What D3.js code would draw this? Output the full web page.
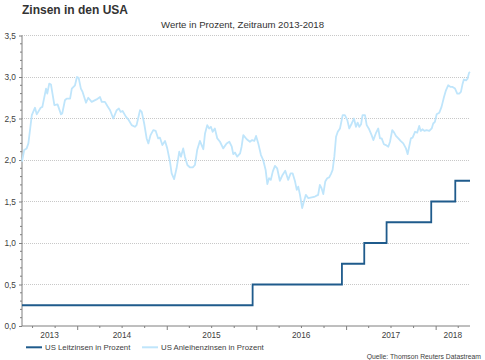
<!DOCTYPE html>
<html><head><meta charset="utf-8">
<script src="https://cdn.jsdelivr.net/npm/d3@7"></script>
<style>
html,body{margin:0;padding:0;background:#fff;}
svg{display:block;font-family:"Liberation Sans",Arial,sans-serif;}
</style></head>
<body>
<svg id="c" width="485" height="360"></svg>
<script>
const title = "Zinsen in den USA";
const subtitle = "Werte in Prozent, Zeitraum 2013-2018";
const source = "Quelle: Thomson Reuters Datastream";
const seriesNames = ["US Leitzinsen in Prozent", "US Anleihenzinsen in Prozent"];
const periodStart = "2013-05-21";
const periodEnd = "2018-05-21";
const yTicks = [0, 0.5, 1, 1.5, 2, 2.5, 3, 3.5];
const yearLabels = ["2013", "2014", "2015", "2016", "2017", "2018"];

// Fed funds target (upper bound): date of change, new level
const leitzinsDates = ["2013-05-21","2015-12-17","2016-12-15","2017-03-16","2017-06-15","2017-12-14","2018-03-22","2018-05-21"];
const leitzinsValues = [0.25, 0.5, 0.75, 1.0, 1.25, 1.5, 1.75, 1.75];

// 10y treasury yield
const anleiheDates = [
"2013-05-21","2013-05-30","2013-06-09","2013-06-16","2013-06-30","2013-07-13","2013-07-20","2013-08-05","2013-08-12","2013-08-27",
"2013-09-01","2013-09-09","2013-09-16","2013-09-30","2013-10-13","2013-10-27","2013-11-01","2013-11-12","2013-11-19","2013-12-03",
"2013-12-10","2013-12-23","2013-12-31","2014-01-07","2014-01-16","2014-01-23","2014-02-06","2014-02-15","2014-03-01","2014-03-21",
"2014-04-04","2014-04-11","2014-04-24","2014-05-04","2014-05-15","2014-05-28","2014-06-11","2014-06-20","2014-06-27","2014-07-05",
"2014-07-19","2014-07-28","2014-08-11","2014-08-24","2014-08-31","2014-09-14","2014-09-21","2014-10-01","2014-10-11","2014-10-18",
"2014-10-27","2014-11-07","2014-11-17","2014-11-27","2014-12-04","2014-12-14","2014-12-25","2015-01-03","2015-01-14","2015-01-21",
"2015-01-31","2015-02-10","2015-02-21","2015-02-28","2015-03-09","2015-03-16","2015-03-26","2015-04-06","2015-04-17","2015-04-26",
"2015-05-05","2015-05-16","2015-05-30","2015-06-06","2015-06-15","2015-06-23","2015-06-30","2015-07-07","2015-07-16","2015-07-26",
"2015-08-06","2015-08-19","2015-09-02","2015-09-13","2015-09-23","2015-09-29","2015-10-06","2015-10-15","2015-10-27","2015-11-02",
"2015-11-09","2015-11-23","2015-12-06","2015-12-15","2015-12-24","2015-12-31","2016-01-09","2016-01-20","2016-01-29","2016-02-08",
"2016-02-15","2016-02-22","2016-02-29","2016-03-08","2016-03-17","2016-03-26","2016-04-06","2016-04-17","2016-04-28","2016-05-10",
"2016-05-20","2016-05-28","2016-06-07","2016-06-14","2016-06-20","2016-06-27","2016-07-06","2016-07-13","2016-07-21","2016-07-31",
"2016-08-14","2016-08-27","2016-09-09","2016-09-16","2016-09-23","2016-09-30","2016-10-08","2016-10-16","2016-10-24","2016-10-31",
"2016-11-07","2016-11-14","2016-11-21","2016-11-28","2016-12-07","2016-12-14","2016-12-18","2016-12-27","2017-01-06","2017-01-14",
"2017-01-24","2017-02-02","2017-02-10","2017-02-17","2017-02-24","2017-03-03","2017-03-09","2017-03-19","2017-03-26","2017-04-05",
"2017-04-15","2017-04-22","2017-05-02","2017-05-12","2017-05-19","2017-05-26","2017-06-04","2017-06-12","2017-06-22","2017-06-29",
"2017-07-08","2017-07-16","2017-07-23","2017-08-02","2017-08-11","2017-08-22","2017-09-02","2017-09-09","2017-09-15","2017-09-22",
"2017-09-29","2017-10-09","2017-10-18","2017-10-26","2017-11-01","2017-11-09","2017-11-16","2017-11-25","2017-12-06","2017-12-16",
"2017-12-22","2017-12-29","2018-01-05","2018-01-16","2018-01-25","2018-02-04","2018-02-12","2018-02-21","2018-03-03","2018-03-11",
"2018-03-21","2018-03-30","2018-04-07","2018-04-14","2018-04-21","2018-04-26","2018-05-05","2018-05-11","2018-05-17","2018-05-21"
];
const anleiheValues = [
1.98,2.12,2.14,2.20,2.54,2.63,2.55,2.63,2.64,2.86,
2.80,2.92,2.91,2.66,2.67,2.55,2.56,2.72,2.74,2.74,
2.86,2.90,3.00,2.99,2.86,2.82,2.69,2.75,2.70,2.73,
2.76,2.70,2.70,2.65,2.60,2.50,2.60,2.62,2.58,2.59,
2.52,2.49,2.42,2.40,2.42,2.60,2.58,2.44,2.26,2.20,
2.30,2.36,2.35,2.26,2.27,2.18,2.23,2.14,1.98,1.84,
1.77,1.90,2.10,2.04,2.14,2.04,1.94,1.91,1.91,1.94,
2.12,2.23,2.13,2.32,2.42,2.38,2.40,2.34,2.38,2.26,
2.22,2.14,2.20,2.22,2.16,2.07,2.09,2.04,2.08,2.16,
2.30,2.25,2.22,2.24,2.23,2.29,2.20,2.06,2.00,1.88,
1.71,1.78,1.76,1.86,1.93,1.90,1.75,1.82,1.87,1.76,
1.84,1.84,1.74,1.64,1.68,1.58,1.42,1.50,1.58,1.54,
1.55,1.56,1.58,1.70,1.66,1.59,1.74,1.78,1.79,1.83,
1.88,2.04,2.28,2.34,2.38,2.48,2.54,2.54,2.48,2.38,
2.44,2.50,2.40,2.45,2.40,2.43,2.54,2.54,2.42,2.37,
2.30,2.24,2.32,2.38,2.26,2.26,2.19,2.18,2.16,2.22,
2.36,2.33,2.29,2.26,2.23,2.20,2.14,2.07,2.16,2.26,
2.27,2.34,2.33,2.41,2.35,2.37,2.35,2.36,2.35,2.38,
2.44,2.46,2.55,2.57,2.64,2.76,2.84,2.90,2.88,2.88,
2.86,2.80,2.80,2.82,2.92,2.97,2.96,2.98,3.05,3.06
];

const parse = d3.utcParse("%Y-%m-%d");
const svg = d3.select("#c");
const M = {left: 22, right: 470, top: 35.5, bottom: 326};

const x = d3.scaleUtc().domain([parse(periodStart), parse(periodEnd)]).range([M.left, M.right]);
const y = d3.scaleLinear().domain([0, 3.5]).range([M.bottom, M.top]);

const fmt = v => d3.format(".1f")(v).replace(".", ",");
const axisCol = "#7f7f7f", textCol = "#404040";

// title
svg.append("text").attr("x", 22).attr("y", 14).attr("font-size", 12).attr("font-weight", "bold")
  .attr("fill", "#333").text(title);
svg.append("text").attr("x", 242.5).attr("y", 28).attr("text-anchor", "middle").attr("font-size", 9.6)
  .attr("fill", "#333").text(subtitle);

// grid
svg.append("g").selectAll("line").data(yTicks.filter(d => d > 0)).join("line")
  .attr("x1", M.left).attr("x2", M.right).attr("y1", d => y(d)).attr("y2", d => y(d))
  .attr("stroke", "#c8c8c8").attr("stroke-width", 1).attr("stroke-dasharray", "1,1")
  .attr("shape-rendering", "crispEdges");

// y axis
const yAxis = d3.axisLeft(y).tickValues(yTicks).tickFormat(fmt).tickSize(3).tickPadding(3);
const gy = svg.append("g").attr("transform", `translate(${M.left},0)`).call(yAxis);
gy.select(".domain").attr("stroke", axisCol).attr("d", `M-0,${M.top}V${M.bottom}`);
gy.selectAll(".tick line").attr("stroke", axisCol);
gy.selectAll(".tick text").attr("fill", textCol).attr("font-size", 8.3).attr("font-family", "Liberation Sans, Arial, sans-serif");
const minorY = d3.range(0, 35).map(i => i / 10).filter(v => Math.round(v * 10) % 5 !== 0);
svg.append("g").selectAll("line").data(minorY).join("line")
  .attr("x1", M.left - 2).attr("x2", M.left).attr("y1", d => y(d)).attr("y2", d => y(d))
  .attr("stroke", axisCol).attr("stroke-width", 1);

// x axis
const quarterTicks = d3.utcMonth.every(3).range(x.domain()[0], x.domain()[1]);
const gx = svg.append("g").attr("transform", `translate(0,${M.bottom})`)
  .call(d3.axisBottom(x).tickValues(quarterTicks).tickFormat("").tickSize(2));
gx.select(".domain").attr("stroke", axisCol).attr("d", `M${M.left},0H${M.right}`);
gx.selectAll(".tick line").attr("stroke", axisCol)
  .attr("y2", d => d.getUTCMonth() === 0 ? 4 : 2);

// year labels centred in the visible part of each year
const [d0, d1] = x.domain();
svg.append("g").selectAll("text").data(yearLabels).join("text")
  .attr("x", d => {
    const a = new Date(Math.max(d0, Date.UTC(+d, 0, 1)));
    const b = new Date(Math.min(d1, Date.UTC(+d + 1, 0, 1)));
    return (x(a) + x(b)) / 2;
  })
  .attr("y", 338).attr("text-anchor", "middle").attr("font-size", 8.3).attr("fill", textCol).text(d => d);

// lines
const anleihe = anleiheDates.map((d, i) => ({date: parse(d), value: anleiheValues[i]}));
const leitzins = leitzinsDates.map((d, i) => ({date: parse(d), value: leitzinsValues[i]}));
const colLight = "#bfe5fb", colDark = "#1f5b8c";

svg.append("path").datum(anleihe)
  .attr("d", d3.line().x(d => x(d.date)).y(d => y(d.value)).curve(d3.curveLinear))
  .attr("fill", "none").attr("stroke", colLight).attr("stroke-width", 1.8).attr("stroke-linejoin", "round");

svg.append("path").datum(leitzins)
  .attr("d", d3.line().x(d => x(d.date)).y(d => y(d.value)).curve(d3.curveStepAfter))
  .attr("fill", "none").attr("stroke", colDark).attr("stroke-width", 1.8);

// legend
const leg = svg.append("g");
const legItems = [{name: seriesNames[0], col: colDark, x: 26}, {name: seriesNames[1], col: colLight, x: 142}];
legItems.forEach(it => {
  leg.append("line").attr("x1", it.x).attr("x2", it.x + 16).attr("y1", 347.3).attr("y2", 347.3)
    .attr("stroke", it.col).attr("stroke-width", 2);
  leg.append("text").attr("x", it.x + 19).attr("y", 350).attr("font-size", 7.8).attr("fill", textCol).text(it.name);
});

// source
svg.append("text").attr("x", 481).attr("y", 359).attr("text-anchor", "end").attr("font-size", 6.8)
  .attr("fill", textCol).text(source);
</script>
</body></html>
